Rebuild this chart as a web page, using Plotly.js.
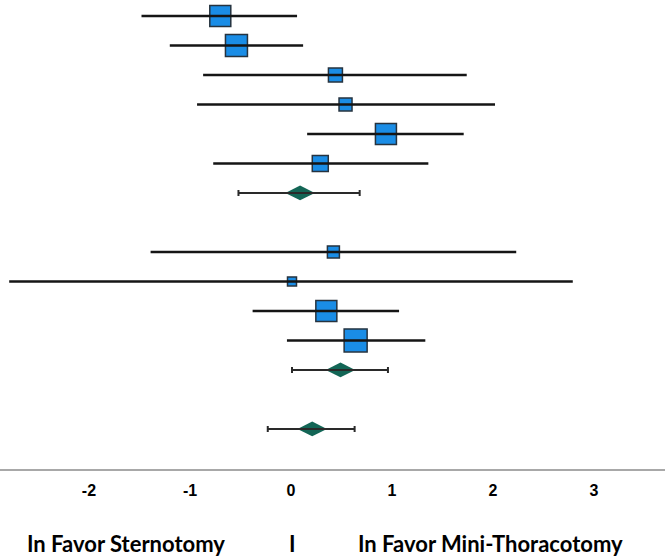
<!DOCTYPE html>
<html>
<head>
<meta charset="utf-8">
<script src="https://cdn.plot.ly/plotly-3.0.1.min.js"></script>
<style>html,body{margin:0;padding:0;background:#fff;}#chart{width:665px;height:558px;}</style>
</head>
<body>
<div id="chart"></div>
<script>
// Individual studies: row position, effect, lower CI, upper CI, weight (marker size)
var studyRows   = [1, 2, 3, 4, 5, 6, 9, 10, 11, 12];
var studyEffect = [-0.70, -0.54, 0.44, 0.54, 0.94, 0.29, 0.42, 0.01, 0.35, 0.64];
var studyLower  = [-1.48, -1.20, -0.87, -0.93, 0.16, -0.77, -1.39, -2.79, -0.38, -0.04];
var studyUpper  = [0.06, 0.12, 1.74, 2.02, 1.71, 1.36, 2.23, 2.79, 1.07, 1.33];
var studyWeight = [21, 22, 14, 13, 21, 16, 12, 9, 21, 23];

// Pooled estimates (diamonds)
var pooledRows   = [7, 13, 15];
var pooledEffect = [0.09, 0.49, 0.21];
var pooledLower  = [-0.52, 0.01, -0.23];
var pooledUpper  = [0.68, 0.96, 0.63];

var tickVals = [-2, -1, 0, 1, 2, 3];
var tickText = ['-2', '-1', '0', '1', '2', '3'];
var labelLeft = 'In Favor Sternotomy';
var labelMid = 'I';
var labelRight = 'In Favor Mini-Thoracotomy';

function plus(e, u) { return u.map(function (v, i) { return v - e[i]; }); }
function minus(e, l) { return l.map(function (v, i) { return e[i] - v; }); }

var traces = [
  {
    type: 'scatter', mode: 'markers', x: studyEffect, y: studyRows,
    marker: { symbol: 'square', size: studyWeight, opacity: 1, color: '#1a8de6', line: { color: '#26333f', width: 1.5 } },
    hoverinfo: 'skip', showlegend: false
  },
  {
    type: 'scatter', mode: 'markers', x: studyEffect, y: studyRows,
    marker: { size: 1, color: 'rgba(0,0,0,0)' },
    error_x: { type: 'data', symmetric: false, array: plus(studyEffect, studyUpper), arrayminus: minus(studyEffect, studyLower), color: '#151515', thickness: 2.5, width: 0 },
    hoverinfo: 'skip', showlegend: false
  },
  {
    type: 'scatter', mode: 'markers', x: pooledEffect, y: pooledRows,
    marker: { symbol: 'diamond-wide', size: 21, opacity: 1, color: '#136656', line: { width: 0 } },
    hoverinfo: 'skip', showlegend: false
  },
  {
    type: 'scatter', mode: 'markers', x: pooledEffect, y: pooledRows,
    marker: { size: 1, color: 'rgba(0,0,0,0)' },
    error_x: { type: 'data', symmetric: false, array: plus(pooledEffect, pooledUpper), arrayminus: minus(pooledEffect, pooledLower), color: '#2a2a2a', thickness: 2, width: 3 },
    hoverinfo: 'skip', showlegend: false
  }
];

var labelFont = { family: 'Lato, Carlito, sans-serif', size: 22, color: '#000' };

var layout = {
  width: 665, height: 558,
  margin: { l: 0, r: 0, t: 0, b: 89 },
  paper_bgcolor: '#ffffff', plot_bgcolor: '#ffffff',
  showlegend: false,
  xaxis: {
    range: [-2.881, 3.703], showgrid: false, zeroline: false,
    showline: true, linecolor: '#a8a8a8', linewidth: 2,
    tickvals: tickVals, ticktext: tickText, ticks: '', ticklabelstandoff: 6,
    tickfont: { family: 'Liberation Sans, Arial, sans-serif', size: 16, color: '#000', weight: 'bold' }
  },
  yaxis: {
    range: [16.36, 0.458], visible: false, showgrid: false, zeroline: false
  },
  annotations: [
    { text: '<b>' + labelLeft + '</b>', xref: 'paper', yref: 'paper', x: 0.1895, y: -0.158, xanchor: 'center', yanchor: 'middle', borderpad: 0, showarrow: false, font: labelFont },
    { text: '<b>' + labelMid + '</b>', xref: 'paper', yref: 'paper', x: 0.4406, y: -0.158, xanchor: 'center', yanchor: 'middle', borderpad: 0, showarrow: false, font: labelFont },
    { text: '<b>' + labelRight + '</b>', xref: 'paper', yref: 'paper', x: 0.738, y: -0.158, xanchor: 'center', yanchor: 'middle', borderpad: 0, showarrow: false, font: labelFont }
  ]
};

Plotly.newPlot('chart', traces, layout, { staticPlot: true, displayModeBar: false });
</script>
</body>
</html>
